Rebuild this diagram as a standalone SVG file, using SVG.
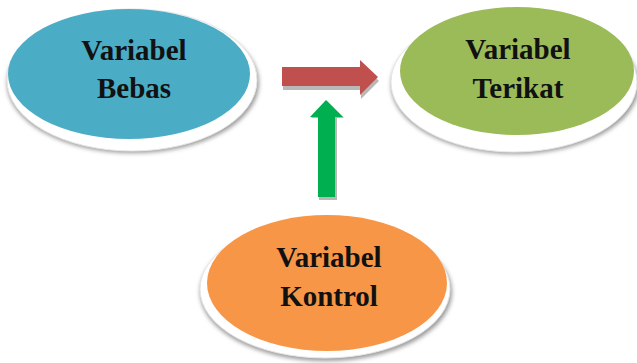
<svg xmlns="http://www.w3.org/2000/svg" width="637" height="363" viewBox="0 0 637 363">
<defs>
<filter id="sh" x="-10%" y="-10%" width="120%" height="130%">
<feGaussianBlur stdDeviation="2"/>
</filter>
<style>
.rim{fill:#ffffff;stroke:#e6e6e6;stroke-width:1}
.shadow{fill:#9a9a9a;filter:url(#sh)}
.lbl{font-family:"Liberation Serif","Times New Roman",serif;font-weight:bold;font-size:29px;fill:#111;text-anchor:middle}
.ashadow{fill:#9a9a9a}
</style>
</defs>
<rect width="637" height="363" fill="#ffffff"/>
<g id="connectors">
<path class="ashadow" d="M283,71 H361 V63 L379,81 L361,99 V90 H283 Z" opacity="0.7"/>
<path fill="#c0504d" d="M282,67 H360 V60 L378,77 L360,95 V86 H282 Z"/>
<path class="ashadow" d="M319,200 V118 H311 L327,101 L344,118 H337 V200 Z" opacity="0.7"/>
<path fill="#00b050" d="M318,197 V117 H310 L326,100 L343,117 H335 V197 Z"/>
</g>
<g id="bebas">
<ellipse class="shadow" cx="133" cy="83" rx="126" ry="70"/>
<ellipse class="rim" cx="132" cy="80" rx="125" ry="71"/>
<ellipse fill="#4bacc6" cx="129" cy="74" rx="121" ry="65"/>
<text class="lbl" x="134" y="60">Variabel</text>
<text class="lbl" x="134" y="98">Bebas</text>
</g>
<g id="terikat">
<ellipse class="shadow" cx="515" cy="85" rx="124" ry="69"/>
<ellipse class="rim" cx="514" cy="82" rx="123" ry="70"/>
<ellipse fill="#9bbb59" cx="517" cy="71" rx="117" ry="64"/>
<text class="lbl" x="518" y="59">Variabel</text>
<text class="lbl" x="518" y="98">Terikat</text>
</g>
<g id="kontrol">
<ellipse class="shadow" cx="326" cy="292" rx="126" ry="69"/>
<ellipse class="rim" cx="325" cy="289" rx="125" ry="69"/>
<ellipse fill="#f79646" cx="327" cy="283" rx="120" ry="68"/>
<text class="lbl" x="329" y="267">Variabel</text>
<text class="lbl" x="329" y="306">Kontrol</text>
</g>
</svg>
